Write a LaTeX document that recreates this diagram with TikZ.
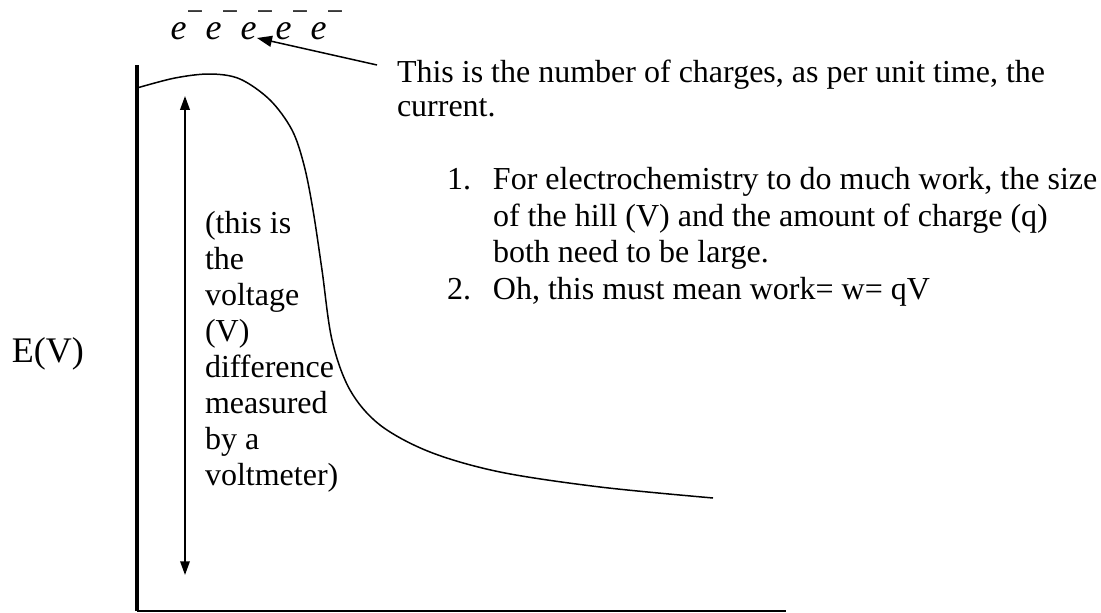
\documentclass[tikz,border=0pt]{standalone}
\usepackage{fontspec}
\setmainfont{Liberation Serif}
\usetikzlibrary{arrows.meta,positioning}

\begin{document}
\begin{tikzpicture}[
    x=0.4pt, y=-0.4pt,
    every node/.style={inner sep=0pt, outer sep=0pt},
    note/.style={align=left, anchor=base west, font=\fontsize{12.8}{14.4}\selectfont},
    biglabel/.style={anchor=base west, font=\fontsize{14.4}{16}\selectfont},
    elec/.style={anchor=base, font=\fontsize{14.4}{16}\selectfont\itshape},
    yaxis/.style={line width=1.5pt},
    xaxis/.style={line width=0.8pt},
    hill/.style={line width=0.6pt, line join=round},
    pointer/.style={-{Triangle[length=6pt,width=4.4pt]}, line width=0.6pt},
    vspan/.style={{Triangle[length=5.5pt,width=3.8pt]}-{Triangle[length=5.5pt,width=3.8pt]}, line width=0.7pt}
  ]
    \useasboundingbox (0,0) rectangle (1101,613);

    % axes
    \coordinate (top) at (137,65);
    \coordinate (origin) at (137,611);
    \coordinate (xend) at (786,611);
    \draw[yaxis] (top) -- (origin);
    \draw[xaxis] (origin) -- (xend);

    % energy hill
    \draw[hill] plot[smooth, tension=0.55] coordinates {(137,88) (175,78) (210,74) (240,79) (270,100) (292,130) (304,165) (313,210) (322,270) (332,340) (350,390) (380,425) (430,452) (500,472) (600,487) (713,498)};

    % voltage span
    \coordinate (vtop) at (185,96);
    \coordinate (vbot) at (185,575);
    \draw[vspan] (vtop) -- (vbot);

    \node[biglabel] (evlabel) at (12,362) {E(V)};
    \node[note, anchor=north west] (voltnote) at (205,211) {(this is\\the\\voltage\\(V)\\difference\\measured\\by a\\voltmeter)};

    % charges
    \foreach \i in {0,...,4}
      \node[elec] (e\i) at (187+35*\i,40) {e\raisebox{0.5em}{\upshape\fontsize{12}{12}\selectfont −}};

    \node[note, anchor=north west, font=\fontsize{12.8}{13.6}\selectfont] (currentnote) at (397,60) {This is the number of charges, as per unit time, the\\current.};
    \coordinate (tail) at (377,65);
    \coordinate (tip) at (257,38);
    \draw[pointer] (tail) -- (tip);

    \node[anchor=north west, font=\fontsize{12.8}{14.6}\selectfont] (worklist) at (447,164) {%
      \begin{tabular}{@{}p{18.4pt}@{}l@{}}
        1. & For electrochemistry to do much work, the size\\
           & of the hill (V) and the amount of charge (q)\\
           & both need to be large.\\
        2. & Oh, this must mean work= w= qV
      \end{tabular}};
\end{tikzpicture}
\end{document}
